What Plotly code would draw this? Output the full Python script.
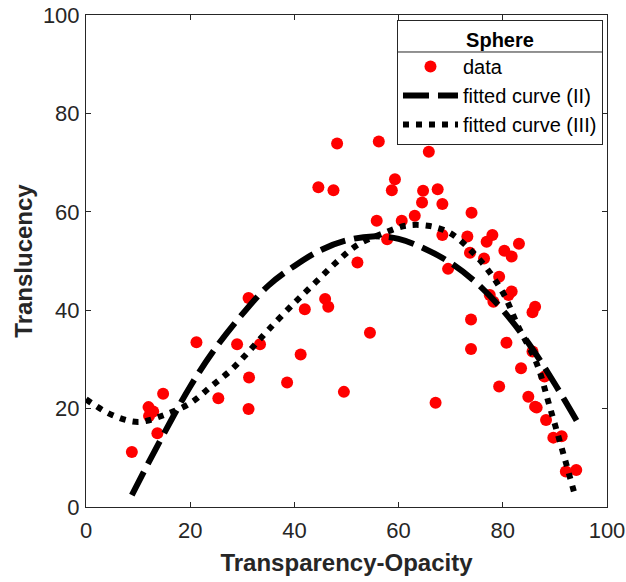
import plotly.graph_objects as go

# ---- data ----
data_x = [8.8, 12.0, 12.9, 12.1, 13.7, 14.8, 21.2, 25.4, 29.0, 31.2, 31.3, 31.2, 33.4,
          38.6, 41.2, 42.0, 45.9, 46.5, 44.6, 47.5, 48.2, 49.5, 52.1, 54.5, 55.8, 56.2,
          57.8, 58.7, 59.3, 60.6, 63.1, 64.5, 64.7, 65.8, 67.1, 67.5, 68.4, 68.4, 69.5,
          73.2, 73.7, 73.9, 73.9, 74.0, 76.4, 76.9, 77.5, 78.0, 78.2, 79.3, 79.3, 80.3,
          80.7, 81.1, 81.7, 81.7, 83.1, 83.5, 84.9, 85.7, 86.2, 85.7, 86.2, 86.5, 88.0,
          88.3, 89.7, 91.3, 92.1, 94.1]
data_y = [11.2, 20.3, 19.4, 18.5, 15.0, 23.0, 33.5, 22.1, 33.1, 42.5, 26.3, 19.9, 33.1,
          25.3, 31.0, 40.2, 42.3, 40.7, 65.0, 64.4, 73.9, 23.4, 49.7, 35.4, 58.2, 74.3,
          54.4, 64.4, 66.6, 58.2, 59.2, 61.9, 64.3, 72.2, 21.2, 64.6, 61.6, 55.3, 48.4,
          55.0, 51.7, 38.1, 32.1, 59.8, 50.5, 53.9, 43.1, 55.3, 41.7, 46.8, 24.5, 52.1,
          33.4, 43.1, 43.8, 50.9, 53.5, 28.2, 22.4, 39.6, 40.7, 31.6, 20.4, 20.2, 26.5,
          17.7, 14.1, 14.4, 7.2, 7.5]

fit2_x = [8.8, 12, 15, 20, 25, 30, 35, 40, 45, 50, 55, 60, 65, 70, 75, 80, 85, 90, 94.2]
fit2_y = [2.4, 9.0, 15.0, 24.5, 32.5, 39.2, 45.0, 49.0, 52.2, 54.2, 55.0, 54.5, 52.5,
          49.6, 45.5, 40.0, 33.2, 25.0, 17.5]

fit3_x = [0, 5, 10, 15, 20, 24, 28, 31.5, 35, 40, 44, 48, 52, 57, 61.5, 66, 70, 75.6,
          80, 83, 86.5, 89, 91.6, 94]
fit3_y = [21.9, 18.7, 17.3, 18.7, 21.1, 24.5, 28.0, 31.9, 36.0, 41.5, 45.6, 49.7, 53.2,
          55.6, 57.2, 57.1, 55.6, 50.2, 43.6, 36.6, 29.2, 20.4, 10.9, 1.8]

x_ticks = [0, 20, 40, 60, 80, 100]
y_ticks = [0, 20, 40, 60, 80, 100]

TXT = '#262626'
FONT = 'Liberation Sans, Arial, Helvetica, sans-serif'

fig = go.Figure()
fig.add_trace(go.Scatter(x=data_x, y=data_y, mode='markers', name='data',
                         marker=dict(color='#ff0000', size=12, line=dict(width=0))))
fig.add_trace(go.Scatter(x=fit2_x, y=fit2_y, mode='lines', name='fitted curve (II)',
                         line=dict(color='black', width=6, dash='26px,9px', shape='spline')))
fig.add_trace(go.Scatter(x=fit3_x, y=fit3_y, mode='lines', name='fitted curve (III)',
                         line=dict(color='black', width=6, dash='6px,7px', shape='spline')))

axis_common = dict(showline=True, linecolor=TXT, linewidth=1, mirror='ticks',
                   ticks='inside', ticklen=5, tickcolor=TXT, showgrid=False,
                   zeroline=False, automargin=False, ticklabeloverflow='allow',
                   tickfont=dict(family=FONT, size=22, color=TXT))

fig.update_xaxes(range=[0, 100], tickvals=x_ticks,
                 title=dict(text='<b>Transparency-Opacity</b>', standoff=11,
                            font=dict(family=FONT, size=24, color=TXT)),
                 ticklabelstandoff=4, **axis_common)
fig.update_yaxes(range=[0, 100], tickvals=y_ticks,
                 title=dict(text='<b>Translucency</b>', standoff=3,
                            font=dict(family=FONT, size=24, color=TXT)),
                 ticklabelstandoff=1, **axis_common)

# legend box geometry (paper coords)
LEG_L, LEG_R, DIV_Y = 0.597, 0.9923, 0.9248

fig.update_layout(
    width=626, height=582,
    margin=dict(l=86, r=19, t=15, b=75),
    plot_bgcolor='white', paper_bgcolor='white',
    font=dict(family=FONT, size=20, color=TXT),
    showlegend=True,
    legend=dict(x=LEG_R, y=0.9898, xanchor='right', yanchor='top',
                bgcolor='rgba(255,255,255,0)', bordercolor=TXT, borderwidth=1,
                font=dict(family=FONT, size=20, color='black'),
                title=dict(text='<b>Sphere</b>', side='top center',
                           font=dict(family=FONT, size=20, color='black')),
                tracegroupgap=0, itemwidth=55),
    shapes=[dict(type='line', xref='paper', yref='paper', x0=LEG_L, x1=LEG_R,
                 y0=DIV_Y, y1=DIV_Y, line=dict(color=TXT, width=1), layer='above')],
)

fig.write_html('out.html', config={'displayModeBar': False},
               post_script="document.body.style.margin='0';document.body.style.padding='0';")
